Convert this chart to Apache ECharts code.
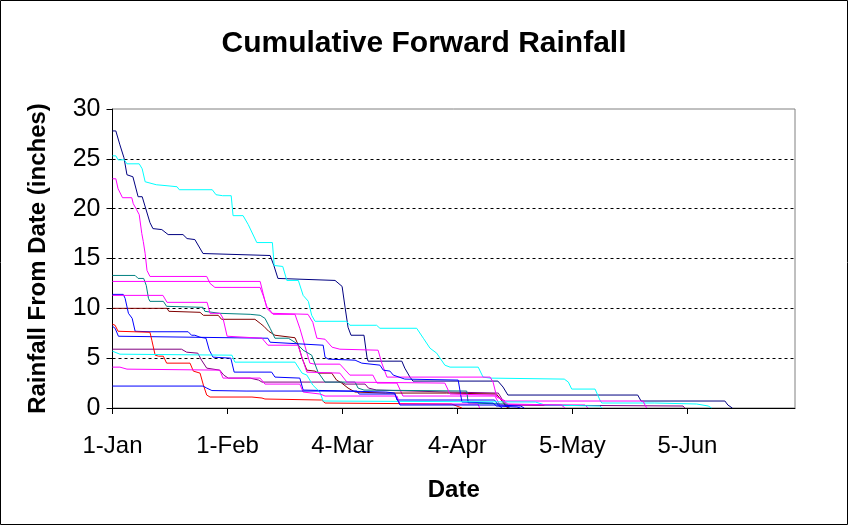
<!DOCTYPE html>
<html>
<head>
<meta charset="utf-8">
<script src="https://cdn.jsdelivr.net/npm/echarts@6/dist/echarts.min.js"></script>
<style>
html,body{margin:0;padding:0;background:#fff;}
#chart{width:848px;height:525px;}
</style>
</head>
<body>
<div id="chart"></div>
<script>
// X axis: days since 1-Jan; tick labels every 31 days
const tickDays = [0, 31, 62, 93, 124, 155];
const tickLabels = ['1-Jan', '1-Feb', '4-Mar', '4-Apr', '5-May', '5-Jun'];
const yTicks = [0, 5, 10, 15, 20, 25, 30];

// Series values: [day, inches]
const navy1 = [[0,27.8],[0.9,27.8],[2.0,26.4],[3.1,25.1],[3.9,23.4],[5.5,23.2],[6.9,21.2],[8.0,21.2],[10.1,18.6],[10.9,18.0],[13.3,17.9],[15.0,17.4],[19.0,17.4],[20.1,17.0],[22.2,16.9],[24.4,15.5],[24.9,15.3],[42.5,15.3],[43.5,14.3],[44.6,13.0],[45.1,12.8],[60.0,12.8],[61.9,12.2],[62.7,10.1],[63.5,8.1],[64.3,7.3],[67.8,7.3],[68.6,5.1],[68.9,4.7],[78.0,4.7],[78.8,4.0],[80.2,3.1],[81.0,2.7],[103.9,2.7],[105.3,2.1],[106.6,1.3],[141.6,1.3],[142.5,0.7],[165.1,0.7],[165.9,0.3],[167.1,0]];
const cyan1 = [[0,25.3],[0.9,25.3],[1.5,24.9],[3.2,24.9],[3.9,24.5],[7.2,24.5],[8.0,24.0],[8.8,22.7],[9.3,22.5],[11.8,22.4],[14.7,22.3],[17.4,22.2],[18.0,21.9],[26.9,21.9],[27.9,21.4],[29.7,21.3],[32.0,21.3],[32.5,19.3],[35.2,19.3],[36.6,18.4],[38.9,16.6],[43.1,16.6],[43.6,14.3],[44.1,14.2],[45.9,14.2],[47.0,12.8],[50.1,12.8],[51.4,11.3],[52.8,10.7],[53.7,9.3],[54.6,8.7],[63.1,8.7],[64.0,8.3],[71.2,8.3],[72.1,8.0],[82.0,8.0],[83.8,7.0],[85.6,6.0],[87.4,5.5],[89.6,4.3],[91.0,4.1],[98.6,4.1],[99.9,3.1],[101.8,3.0],[121.8,2.9],[122.9,2.6],[123.8,1.9],[130.1,1.9],[131.4,0.8],[131.9,0.5],[146.2,0.5],[157.5,0.4],[160.6,0.2],[161.5,0]];
const magenta1 = [[0,23.0],[0.9,23.0],[1.5,22.0],[2.7,21.1],[5.2,21.1],[5.6,20.5],[6.5,19.9],[7.2,19.4],[7.9,17.5],[8.3,16.7],[8.8,15.5],[9.3,13.8],[10.1,13.2],[25.4,13.2],[26.3,12.5],[27.6,12.1],[39.8,12.1],[40.6,11.3],[41.6,10.2],[43.3,9.4],[49.2,9.4],[50.5,8.0],[51.9,6.2],[53.2,4.5],[54.5,4.4],[61.3,4.4],[64.0,3.3],[70.2,3.3],[71.3,2.5],[76.7,2.5],[78.3,1.2],[103.1,1.2],[104.4,0.3],[127.4,0.3],[128.2,0]];
const teal1 = [[0,13.3],[6.1,13.3],[6.9,13.0],[8.4,13.0],[9.1,12.3],[9.7,11.0],[10.1,10.7],[13.7,10.7],[14.6,10.2],[24.4,10.1],[24.9,9.7],[28.9,9.5],[37.1,9.4],[39.8,9.3],[41.1,9.0],[42.5,8.0],[43.8,7.0],[47.4,7.0],[49.6,6.5],[51.4,5.8],[53.7,5.3],[55.4,3.6],[57.3,2.6],[65.4,2.6],[66.2,2.0],[67.8,1.8],[95.5,1.7],[95.9,0.5],[106.3,0.4],[107.0,0]];
const magenta2 = [[0,12.7],[39.8,12.7],[40.6,11.5],[41.6,10.0],[43.0,9.5],[52.7,9.4],[54.0,8.6],[55.1,7.0],[57.3,6.9],[59.2,6.1],[61.3,5.9],[71.6,5.8],[72.6,4.5],[74.0,3.1],[101.8,3.1],[102.6,2.6],[103.6,1.1],[106.0,0.7],[143.0,0.7],[144.0,0]];
const magenta3 = [[0,11.3],[13.6,11.3],[14.7,10.6],[25.5,10.6],[26.3,9.5],[29.0,9.5],[29.8,9.0],[30.9,7.2],[40.3,7.0],[41.9,6.3],[50.0,6.3],[52.4,3.6],[61.3,3.5],[63.2,2.6],[89.6,2.5],[91.0,1.4],[103.0,1.3],[106.6,0.4],[121.0,0.3],[122.0,0]];
const blue1 = [[0,11.4],[2.9,11.4],[3.4,11.0],[4.3,9.5],[5.3,9.0],[6.1,7.7],[10.1,7.65],[20.4,7.65],[21.3,7.3],[22.2,7.3],[23.6,7.1],[25.2,7.0],[26.1,5.8],[27.1,5.1],[31.9,5.0],[32.8,3.6],[42.9,3.6],[43.8,3.1],[50.5,3.0],[51.4,1.8],[73.7,1.6],[76.1,1.5],[76.7,0.8],[103.0,0.8],[104.0,0.3],[110.0,0.2],[111.0,0]];
const darkred1 = [[0,10.0],[14.7,10.0],[15.2,9.7],[23.6,9.6],[24.5,9.3],[28.5,9.3],[29.4,8.9],[38.4,8.9],[39.8,8.5],[40.8,8.2],[42.1,7.7],[43.8,7.3],[49.2,7.05],[50.1,6.3],[51.1,5.0],[52.4,3.8],[54.6,3.7],[55.5,3.5],[59.1,3.5],[60.4,2.8],[61.8,2.5],[63.5,2.0],[65.4,1.6],[73.5,1.5],[90.0,1.5],[103.5,1.4],[104.8,0.8],[106.2,0.1],[107.0,0]];
const red1 = [[0,8.4],[0.7,8.3],[1.5,7.7],[2.0,7.6],[10.1,7.6],[10.6,6.8],[11.5,5.3],[12.4,5.2],[13.7,5.2],[14.6,4.5],[20.9,4.5],[21.8,3.7],[23.6,3.5],[24.5,2.3],[25.4,1.3],[26.3,1.1],[37.6,1.1],[40.3,1.0],[41.1,0.9],[56.4,0.8],[57.3,0.5],[91.4,0.4],[94.2,0]];
const blue2 = [[0,8.2],[0.7,8.0],[1.6,7.2],[41.9,7.0],[42.5,6.6],[56.8,6.3],[57.3,5.1],[58.2,4.9],[65.4,4.8],[67.2,4.5],[72.1,4.3],[73.0,3.8],[74.8,3.7],[75.7,3.3],[78.8,2.9],[93.2,2.8],[94.2,0.6],[102.6,0.5],[103.5,0.2],[109.0,0.1],[110.0,0]];
const purple1 = [[0,5.9],[18.6,5.9],[20.0,5.6],[23.0,5.5],[24.0,4.8],[25.4,4.0],[28.9,3.8],[30.0,3.3],[31.2,3.0],[37.1,3.0],[39.4,2.8],[40.3,2.6],[61.8,2.6],[62.7,2.4],[68.1,2.4],[69.0,2.0],[71.2,1.8],[90.6,1.6],[104.0,1.5],[106.0,0.3],[153.8,0.2],[154.3,0]];
const cyan2 = [[0,5.7],[2.0,5.4],[32.2,5.3],[33.0,4.6],[49.2,4.6],[51.1,3.5],[52.4,3.3],[54.0,2.3],[55.9,1.6],[56.8,0.7],[114.0,0.6],[116.6,0.3],[131.4,0.2],[132.0,0]];
const magenta4 = [[0,4.1],[2.0,4.1],[3.9,3.9],[28.9,3.8],[29.8,3.0],[39.8,3.0],[41.1,2.4],[50.5,2.4],[51.4,1.6],[56.0,1.4],[57.3,1.2],[76.7,1.2],[77.5,0.4],[98.5,0.4],[99.0,0]];
const blue3 = [[0,2.2],[24.4,2.2],[25.4,2.0],[26.8,1.75],[36.0,1.7],[65.9,1.7],[66.5,1.4],[76.1,1.4],[77.5,0.3],[104.0,0.3],[105.0,0]];

const seriesList = [
  {data: navy1, color: '#000080'},
  {data: magenta1, color: '#FF00FF'},
  {data: cyan1, color: '#00FFFF'},
  {data: purple1, color: '#800080'},
  {data: darkred1, color: '#800000'},
  {data: teal1, color: '#008080'},
  {data: blue1, color: '#0000FF'},
  {data: magenta2, color: '#FF00FF'},
  {data: blue2, color: '#0000FF'},
  {data: red1, color: '#FF0000'},
  {data: cyan2, color: '#00FFFF'},
  {data: magenta3, color: '#FF00FF'},
  {data: magenta4, color: '#FF00FF'},
  {data: blue3, color: '#0000FF'}
];

const FONT = 'Liberation Sans, Arial, sans-serif';
const chart = echarts.init(document.getElementById('chart'), null, {renderer: 'canvas'});
chart.setOption({
  animation: false,
  backgroundColor: '#ffffff',
  textStyle: {fontFamily: FONT, color: '#000'},
  title: {
    text: 'Cumulative Forward Rainfall',
    left: 'center',
    top: 24,
    textStyle: {fontFamily: FONT, fontSize: 30, fontWeight: 'bold', color: '#000'}
  },
  graphic: [{
    type: 'rect', silent: true, z: 100,
    shape: {x: 0.5, y: 0.5, width: 847, height: 524},
    style: {fill: 'none', stroke: '#000', lineWidth: 1}
  }],
  grid: {
    left: 112.5, right: 53, top: 109, bottom: 117,
    show: true, borderColor: '#808080', borderWidth: 1, backgroundColor: 'transparent'
  },
  xAxis: {
    type: 'value', min: 0, max: 184, interval: 31,
    name: 'Date', nameLocation: 'middle', nameGap: 70,
    nameTextStyle: {fontFamily: FONT, fontSize: 24, fontWeight: 'bold', color: '#000'},
    axisLine: {show: true, lineStyle: {color: '#000', width: 1}},
    axisTick: {show: true, customValues: tickDays, length: 6, lineStyle: {color: '#000'}},
    axisLabel: {
      customValues: tickDays, margin: 26,
      fontFamily: FONT, fontSize: 24, color: '#000',
      formatter: v => { const i = tickDays.indexOf(Math.round(v)); return i >= 0 ? tickLabels[i] : ''; }
    },
    splitLine: {show: false}
  },
  yAxis: {
    type: 'value', min: 0, max: 30, interval: 5,
    name: 'Rainfall From Date (inches)', nameLocation: 'middle', nameGap: 62,
    nameTextStyle: {fontFamily: FONT, fontSize: 24, fontWeight: 'bold', color: '#000'},
    axisLine: {show: true, lineStyle: {color: '#000', width: 1}},
    axisTick: {show: true, length: 6, lineStyle: {color: '#000'}},
    axisLabel: {margin: 12, fontFamily: FONT, fontSize: 25, color: '#000'},
    splitLine: {
      show: true,
      lineStyle: {
        color: yTicks.map(v => v === 30 ? 'rgba(0,0,0,0)' : '#000'),
        type: [3, 3], width: 1
      }
    }
  },
  series: seriesList.map(s => ({
    type: 'line',
    data: s.data,
    showSymbol: false,
    symbol: 'none',
    silent: true,
    lineStyle: {color: s.color, width: 1},
    itemStyle: {color: s.color}
  }))
});
</script>
</body>
</html>
